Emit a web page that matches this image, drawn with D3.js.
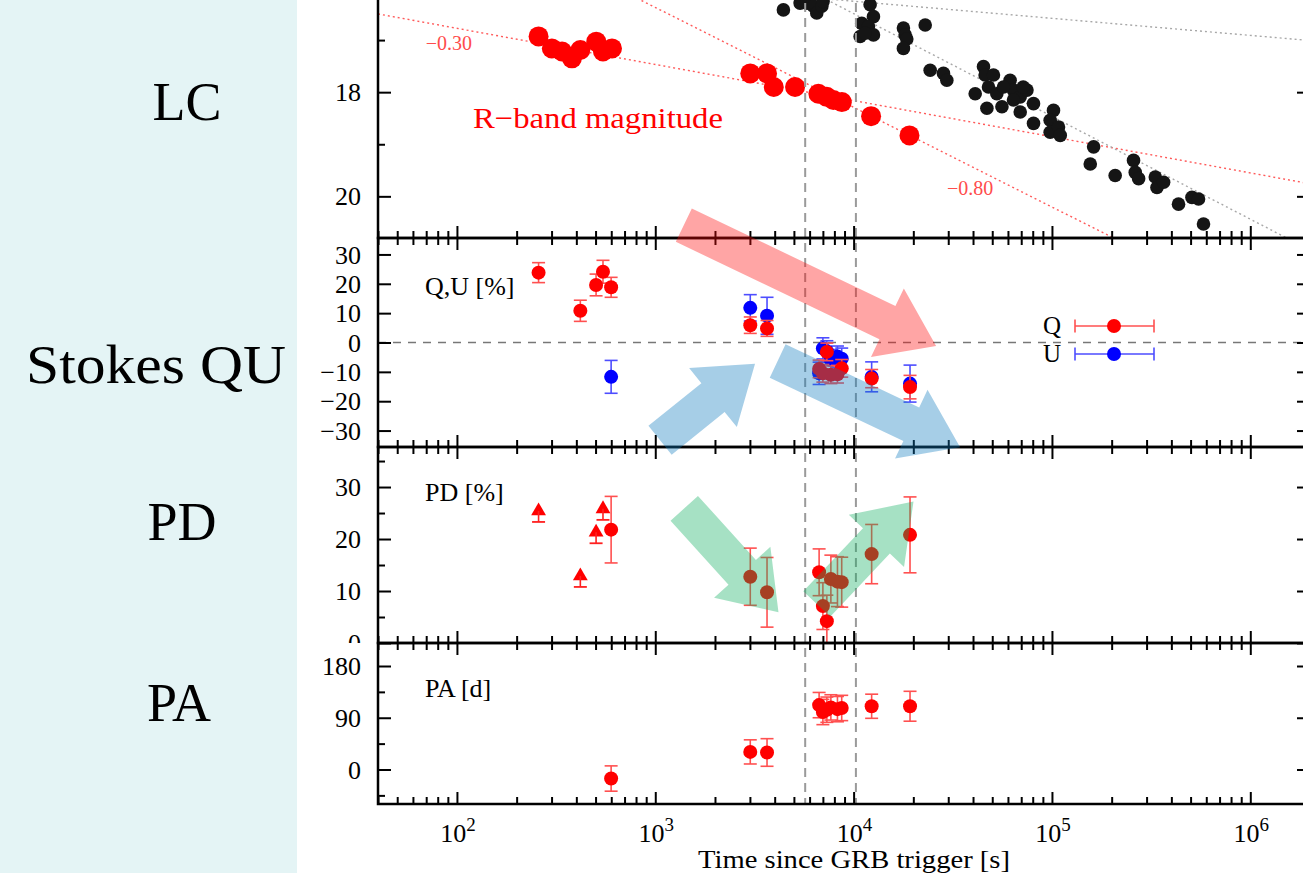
<!DOCTYPE html>
<html>
<head>
<meta charset="utf-8">
<script src="https://cdn.jsdelivr.net/npm/d3@7"></script>
<style>
  body { margin: 0; background: #fff; }
  text { font-family: "Liberation Serif", "Times New Roman", serif; }
</style>
</head>
<body>
<div id="chart"></div>
<script>
// ---- values ----

// light curve: R band (red) and the other band (black), time in s, magnitude
var rbandTime = [258, 301, 339, 380, 419, 504, 545, 605, 3013, 3660, 3957, 5067, 6643, 7321, 7907, 8724, 12250, 19130];
var rbandMag  = [16.93, 17.16, 17.22, 17.35, 17.19, 17.03, 17.22, 17.16, 17.64, 17.64, 17.90, 17.90, 18.03, 18.09, 18.15, 18.19, 18.46, 18.83];

var otherTime = [4426, 5373, 5808, 6270, 6520, 6915, 7015, 12110, 12590, 10990, 11880, 10790, 12590, 11430,
                 17830, 18190, 18540, 17830, 22960, 24320, 28380, 29510,
                 41020, 45170, 46030, 50700, 47860, 46990, 52720, 55950, 61520, 63970, 69180, 74820, 63970, 69180, 80720, 80720, 56970, 71610,
                 101800, 97950, 97950, 107900, 110100, 162200, 156000, 208300,
                 257800, 263000, 273500, 331900, 338400, 365500, 434600, 508000, 548400, 580800];
var otherMag  = [16.42, 16.29, 16.29, 16.35, 16.48, 16.35, 16.26, 16.32, 16.55, 16.68, 16.74, 16.93, 16.90, 16.87,
                 16.77, 16.90, 16.98, 17.16, 16.71, 17.58, 17.64, 17.77,
                 18.03, 17.51, 17.67, 17.67, 17.90, 18.31, 18.03, 18.28, 17.77, 17.96, 18.09, 17.96, 18.15, 18.38, 18.22, 18.60, 17.90, 17.90,
                 18.35, 18.54, 18.77, 18.67, 18.83, 19.05, 19.38, 19.60,
                 19.31, 19.54, 19.66, 19.63, 19.83, 19.73, 20.15, 20.02, 20.05, 20.53];

// power-law fits: mag = anchorMag + slope * log10(t / anchorTime)
var fitSlope      = [0.694, 1.916, 1.973, 0.328];   // mag per decade
var fitAnchorTime = [1000, 1e4, 1e5, 1e5];
var fitAnchorMag  = [17.468, 18.289, 18.465, 16.582];
var fitBand       = ["R", "R", "other", "other"];
var fitLabel      = ["\u22120.30", "\u22120.80"];
var fitLabelTime  = [91, 38700];
var fitLabelMag   = [17.05, 19.84];

// polarimetry epochs
var qTime  = [258, 419, 503, 545, 599, 3013, 3660, 6700, 7000, 7330, 7680, 8290, 8710, 12330, 19250];
var qValue = [23.8, 10.8, 19.6, 24.1, 18.8, 5.9, 4.8, -9.0, -10.5, -3.2, -11.0, -10.8, -8.8, -12.3, -15.2];
var qErr   = [3.4, 3.6, 3.7, 3.9, 3.4, 2.8, 2.7, 3.0, 3.0, 3.0, 3.0, 3.0, 3.0, 3.1, 4.0];

var polTime = [599, 3013, 3660, 6700, 7000, 7330, 7680, 8290, 8710, 12330, 19250];
var uValue  = [-11.7, 11.8, 9.1, -10.5, -2.0, -3.0, -6.0, -4.8, -5.5, -11.7, -14.0];
var uErr    = [5.6, 4.5, 6.3, 3.8, 3.6, 3.6, 3.6, 3.6, 3.6, 5.1, 6.3];
var pdValue = [21.8, 12.75, 9.75, 13.6, 7.1, 4.2, 12.3, 11.8, 11.7, 17.1, 20.8];
var pdErr   = [6.4, 5.5, 6.7, 4.5, 4.5, 5.0, 4.6, 4.8, 4.8, 5.7, 7.3];
var paValue = [-15.7, 30.6, 29.6, 112, 100, 104, 108, 105, 107, 110, 110];
var paErr   = [22, 21, 24, 22, 22, 22, 22, 22, 22, 21, 26];

// PD lower limits at the earliest epochs
var pdLimitTime  = [258, 419, 503, 545];
var pdLimitValue = [25.4, 12.9, 21.3, 25.8];

// vertical guide lines
var guideTime = [5700, 10270];

// annotation arrows: [time, value] in the panel they sit in
var arrowPanel = ["qu", "qu", "qu", "pd", "pd"];
var arrowFrom  = [[1393, 40.0], [1057, -33.3], [4140, -6.3], [1400, 25.9], [6520, 7.5]];
var arrowTo    = [[26060, -1.2], [3184, -7.2], [34430, -35.7], [4180, 5.9], [20040, 27.2]];
var arrowKind  = ["red", "blue", "blue", "green", "green"];

// axis ticks
var xMajor = [100, 1e3, 1e4, 1e5, 1e6];
var lcMajor = [16, 18, 20], lcMinor = [17, 19];
var quMajor = [-30, -20, -10, 0, 10, 20, 30], quMinor = [];
var pdMajor = [0, 10, 20, 30], pdMinor = [5, 15, 25, 35];
var paMajor = [0, 90, 180], paMinor = [-45, 45, 135];

// ---- drawing ----
var W = 1303, H = 873;
var svg = d3.select("#chart").append("svg").attr("width", W).attr("height", H);

svg.append("rect").attr("width", W).attr("height", H).attr("fill", "#fff");
svg.append("rect").attr("width", 297).attr("height", H).attr("fill", "#e4f4f5");

// row titles on the left
[["LC", 187, 120, 0], ["Stokes QU", 156, 383, 260], ["PD", 182, 540, 0], ["PA", 179, 721, 0]].forEach(function(d) {
  var t = svg.append("text").attr("x", d[1]).attr("y", d[2]).attr("text-anchor", "middle")
    .attr("font-size", 54).text(d[0]);
  if (d[3]) t.attr("textLength", d[3]).attr("lengthAdjust", "spacingAndGlyphs");
});

var xLeft = 378, xRight = 1310;
var x = d3.scaleLog().domain([40, 2e6]).range([xLeft, xRight]);

var xMinor = [];
[10, 100, 1e3, 1e4, 1e5, 1e6].forEach(function(p) {
  for (var k = 2; k <= 9; k++) if (p * k >= 40 && p * k <= 2e6) xMinor.push(p * k);
});

var yLC = d3.scaleLinear().domain([16, 20.8]).range([-12, 238]);
var yQU = d3.scaleLinear().domain([-35.6, 35.6]).range([447, 238]);
var yPD = d3.scaleLinear().domain([0, 37.7]).range([643, 447]);
var yPA = d3.scaleLinear().domain([-60, 220]).range([804, 643]);
var yOf = {qu: yQU, pd: yPD};

var defs = svg.append("defs");
function clipFor(id, y) {
  var r = y.range();
  defs.append("clipPath").attr("id", id).append("rect")
    .attr("x", xLeft).attr("y", Math.min(r[0], r[1]))
    .attr("width", xRight - xLeft).attr("height", Math.abs(r[1] - r[0]));
  return "url(#" + id + ")";
}

function minus(v) { return v < 0 ? "\u2212" + Math.abs(v) : "" + v; }

function frame(y, major, minor, labelClip) {
  var r = y.range(), top = Math.min(r[0], r[1]), bottom = Math.max(r[0], r[1]);
  var g = svg.append("g");
  [[bottom, d3.axisTop], [top, d3.axisBottom]].forEach(function(p) {
    g.append("g").attr("transform", "translate(0," + p[0] + ")")
      .call(p[1](x).tickValues(xMajor).tickSize(12).tickFormat(""));
    g.append("g").attr("transform", "translate(0," + p[0] + ")")
      .call(p[1](x).tickValues(xMinor).tickSize(7).tickFormat(""));
  });
  [[xLeft, d3.axisRight], [xRight, d3.axisLeft]].forEach(function(p) {
    g.append("g").attr("transform", "translate(" + p[0] + ",0)")
      .call(p[1](y).tickValues(major).tickSize(13).tickFormat(""));
    g.append("g").attr("transform", "translate(" + p[0] + ",0)")
      .call(p[1](y).tickValues(minor).tickSize(7).tickFormat(""));
  });
  g.selectAll(".domain").remove();
  g.selectAll(".tick line").attr("stroke", "#000").attr("stroke-width", 2);
  g.append("rect").attr("x", xLeft).attr("y", top)
    .attr("width", xRight - xLeft).attr("height", bottom - top)
    .attr("fill", "none").attr("stroke", "#000").attr("stroke-width", 2.5);

  var lab = svg.append("g");
  if (labelClip) lab.attr("clip-path", labelClip);
  lab.selectAll("text").data(major.filter(function(d) { return y(d) > 8; })).join("text")
    .attr("x", 361).attr("y", function(d) { return y(d); }).attr("dy", "0.35em")
    .attr("text-anchor", "end").attr("font-size", 26)
    .text(minus);
}

function errorBars(g, xs, ys, errs, y, color) {
  var data = d3.range(xs.length).map(function(i) { return {t: xs[i], v: ys[i], e: errs[i]}; });
  var eg = g.append("g").attr("stroke", color).attr("stroke-width", 1.6);
  eg.selectAll("line.v").data(data).join("line").attr("class", "v")
    .attr("x1", function(d) { return x(d.t); }).attr("x2", function(d) { return x(d.t); })
    .attr("y1", function(d) { return y(d.v - d.e); }).attr("y2", function(d) { return y(d.v + d.e); });
  [-1, 1].forEach(function(s) {
    eg.selectAll("line.c" + (s + 1)).data(data).join("line").attr("class", "c" + (s + 1))
      .attr("x1", function(d) { return x(d.t) - 6.5; }).attr("x2", function(d) { return x(d.t) + 6.5; })
      .attr("y1", function(d) { return y(d.v + s * d.e); }).attr("y2", function(d) { return y(d.v + s * d.e); });
  });
}

function dots(g, xs, ys, y, r, color) {
  g.selectAll(null).data(d3.range(xs.length)).join("circle")
    .attr("cx", function(i) { return x(xs[i]); })
    .attr("cy", function(i) { return y(ys[i]); })
    .attr("r", r).attr("fill", color);
}

// ---- LC panel ----
var lc = svg.append("g").attr("clip-path", clipFor("clipLC", yLC));
fitSlope.forEach(function(s, i) {
  var mag = function(t) { return fitAnchorMag[i] + s * Math.log10(t / fitAnchorTime[i]); };
  lc.append("path")
    .datum(x.domain())
    .attr("d", d3.line().x(function(t) { return x(t); }).y(function(t) { return yLC(mag(t)); }))
    .attr("fill", "none")
    .attr("stroke", fitBand[i] === "R" ? "#ff5a5a" : "#a8a8a8")
    .attr("stroke-width", 1.4)
    .attr("stroke-dasharray", "2,3");
});
dots(lc, otherTime, otherMag, yLC, 6.8, "#151515");
dots(lc, rbandTime, rbandMag, yLC, 10, "#ff0000");
fitLabel.forEach(function(l, i) {
  lc.append("text").attr("x", x(fitLabelTime[i])).attr("y", yLC(fitLabelMag[i])).attr("dy", "0.35em")
    .attr("text-anchor", "middle").attr("font-size", 20).attr("fill", "#ff4c4c").text(l);
});
lc.append("text").attr("x", x(514)).attr("y", yLC(18.69)).attr("text-anchor", "middle")
  .attr("font-size", 30).attr("fill", "#ff0000").attr("textLength", 250)
  .attr("lengthAdjust", "spacingAndGlyphs").text("R\u2212band magnitude");

// ---- guide lines through all panels ----
guideTime.forEach(function(t) {
  svg.append("line").attr("x1", x(t)).attr("x2", x(t)).attr("y1", yLC.range()[0]).attr("y2", yPA.range()[0])
    .attr("stroke", "#9a9a9a").attr("stroke-width", 2).attr("stroke-dasharray", "9,6");
});

// ---- Stokes QU panel ----
var qu = svg.append("g").attr("clip-path", clipFor("clipQU", yQU));
qu.append("line").attr("x1", xLeft).attr("x2", xRight).attr("y1", yQU(0)).attr("y2", yQU(0))
  .attr("stroke", "#777").attr("stroke-width", 1.5).attr("stroke-dasharray", "8,7");
errorBars(qu, polTime, uValue, uErr, yQU, "#4d4dff");
dots(qu, polTime, uValue, yQU, 7, "#0000ff");
errorBars(qu, qTime, qValue, qErr, yQU, "#ff5050");
dots(qu, qTime, qValue, yQU, 7, "#ff0000");
svg.append("text").attr("x", 425).attr("y", 295).attr("font-size", 26).text("Q,U [%]");

// legend
[["Q", "#ff0000", "#ff5050", 326], ["U", "#0000ff", "#4d4dff", 354]].forEach(function(d) {
  svg.append("text").attr("x", 1061).attr("y", d[3]).attr("dy", "0.33em").attr("text-anchor", "end")
    .attr("font-size", 25).text(d[0]);
  svg.append("line").attr("x1", 1075).attr("x2", 1154).attr("y1", d[3]).attr("y2", d[3])
    .attr("stroke", d[2]).attr("stroke-width", 1.6);
  [1075, 1154].forEach(function(cx) {
    svg.append("line").attr("x1", cx).attr("x2", cx).attr("y1", d[3] - 6.5).attr("y2", d[3] + 6.5)
      .attr("stroke", d[2]).attr("stroke-width", 1.6);
  });
  svg.append("circle").attr("cx", 1114).attr("cy", d[3]).attr("r", 7).attr("fill", d[1]);
});

// ---- PD panel ----
var pd = svg.append("g").attr("clip-path", clipFor("clipPD", yPD));
errorBars(pd, polTime, pdValue, pdErr, yPD, "#ff5050");
dots(pd, polTime, pdValue, yPD, 7, "#ff0000");
var lim = pd.append("g");
pdLimitTime.forEach(function(t, i) {
  var cx = x(t), cy = yPD(pdLimitValue[i]);
  lim.append("path").attr("transform", "translate(" + cx + "," + cy + ")")
    .attr("d", d3.symbol(d3.symbolTriangle, 95)()).attr("fill", "#ff0000");
  lim.append("line").attr("x1", cx).attr("x2", cx).attr("y1", cy).attr("y2", cy + 11)
    .attr("stroke", "#ff2020").attr("stroke-width", 1.6);
  lim.append("line").attr("x1", cx - 6.5).attr("x2", cx + 6.5).attr("y1", cy + 11).attr("y2", cy + 11)
    .attr("stroke", "#ff2020").attr("stroke-width", 1.8);
});
svg.append("text").attr("x", 425).attr("y", 501).attr("font-size", 26).text("PD [%]");

// ---- PA panel ----
var pa = svg.append("g").attr("clip-path", clipFor("clipPA", yPA));
errorBars(pa, polTime, paValue, paErr, yPA, "#ff5050");
dots(pa, polTime, paValue, yPA, 7, "#ff0000");
svg.append("text").attr("x", 425).attr("y", 697).attr("font-size", 26).text("PA [d]");

// ---- frames, ticks and tick labels ----
frame(yLC, lcMajor, lcMinor);
frame(yQU, quMajor, quMinor);
defs.append("clipPath").attr("id", "clipPDlab").append("rect")
  .attr("x", 297).attr("y", 440).attr("width", 100).attr("height", 203);
frame(yPD, pdMajor, pdMinor, "url(#clipPDlab)");
frame(yPA, paMajor, paMinor);

xMajor.forEach(function(t) {
  var tx = svg.append("text").attr("x", x(t) + 1).attr("y", 842).attr("text-anchor", "middle").attr("font-size", 26);
  tx.append("tspan").text("10");
  tx.append("tspan").attr("dy", -11).attr("font-size", 19).text(Math.round(Math.log10(t)));
});
svg.append("text").attr("x", 854).attr("y", 868).attr("text-anchor", "middle")
  .attr("font-size", 26).attr("textLength", 312).attr("lengthAdjust", "spacingAndGlyphs")
  .text("Time since GRB trigger [s]");

// ---- annotation arrows ----
var arrowColor = {red: "rgb(255,12,12)", blue: "rgb(13,122,189)", green: "rgb(13,174,94)"};
arrowFrom.forEach(function(a, i) {
  var y = yOf[arrowPanel[i]];
  var x0 = x(a[0]), y0 = y(a[1]), x1 = x(arrowTo[i][0]), y1 = y(arrowTo[i][1]);
  var len = Math.hypot(x1 - x0, y1 - y0), ux = (x1 - x0) / len, uy = (y1 - y0) / len;
  var nx = -uy, ny = ux, w = 18.5, hw = 38, hl = 54;
  var bx = x1 - ux * hl, by = y1 - uy * hl;
  var pts = [[x0 + nx * w, y0 + ny * w], [bx + nx * w, by + ny * w], [bx + nx * hw, by + ny * hw], [x1, y1],
             [bx - nx * hw, by - ny * hw], [bx - nx * w, by - ny * w], [x0 - nx * w, y0 - ny * w]];
  svg.append("polygon").attr("points", pts.map(function(p) { return p.join(","); }).join(" "))
    .attr("fill", arrowColor[arrowKind[i]]).attr("fill-opacity", 0.37);
});
</script>
</body>
</html>
